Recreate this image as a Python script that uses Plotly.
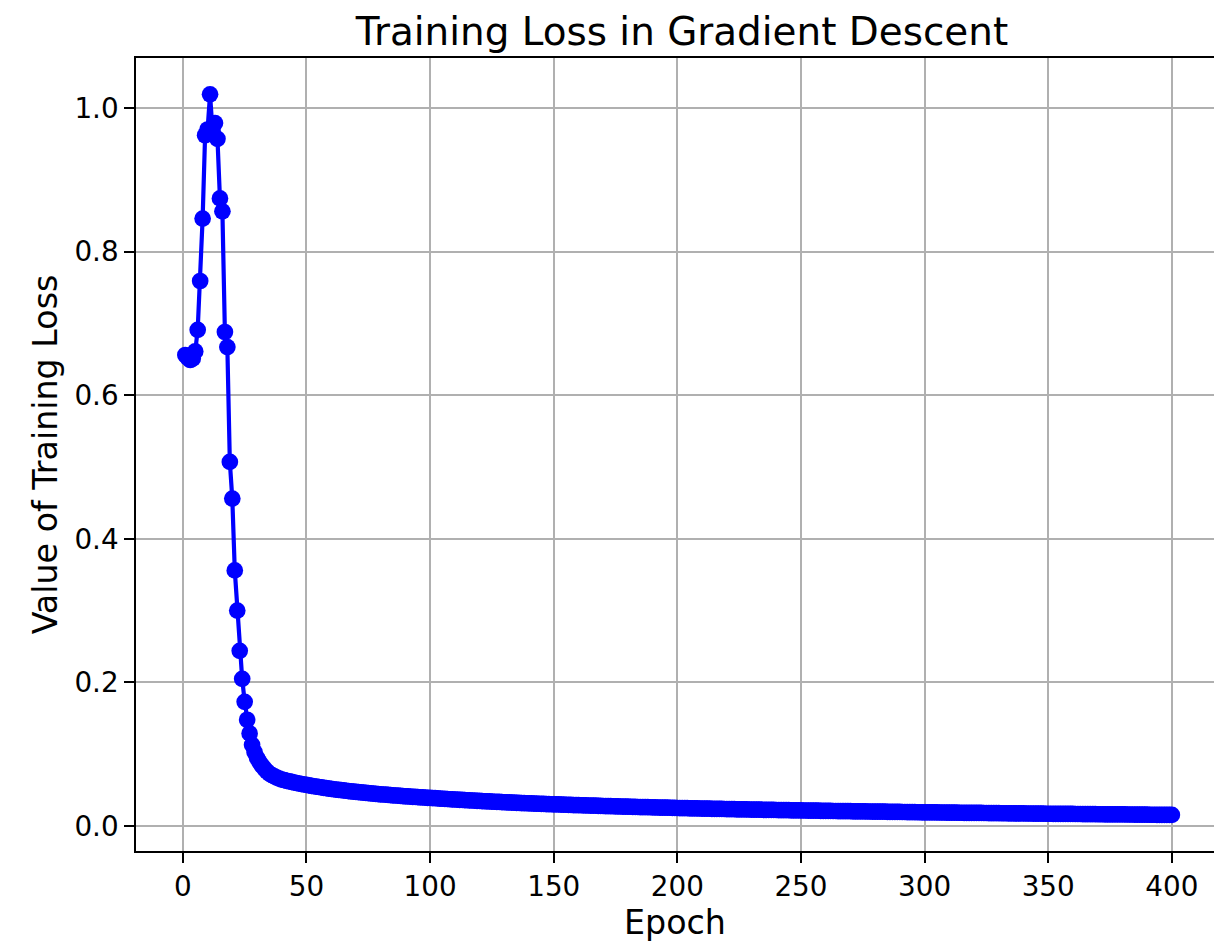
import plotly.graph_objects as go

epochs = list(range(1, 401))

loss = [
    0.656, 0.652, 0.649, 0.651, 0.661, 0.691, 0.759, 0.846, 0.962, 0.970,
    1.019, 0.968, 0.979, 0.957, 0.874, 0.856, 0.688, 0.667, 0.507, 0.456,
    0.356, 0.300, 0.244, 0.205, 0.173, 0.148, 0.129, 0.113, 0.103, 0.095,
    0.089, 0.084, 0.080, 0.076, 0.073, 0.071, 0.069, 0.0675, 0.066, 0.0647,
    0.0638, 0.0630, 0.0622, 0.0614, 0.0606, 0.0599, 0.0592, 0.0585, 0.0578, 0.0572,
    0.0566, 0.0560, 0.0554, 0.0549, 0.0543, 0.0538, 0.0532, 0.0527, 0.0522, 0.0517,
    0.0512, 0.0508, 0.0503, 0.0499, 0.0495, 0.0491, 0.0487, 0.0483, 0.0479, 0.0475,
    0.0472, 0.0468, 0.0465, 0.0461, 0.0458, 0.0455, 0.0452, 0.0448, 0.0445, 0.0442,
    0.0439, 0.0436, 0.0433, 0.0430, 0.0428, 0.0425, 0.0422, 0.0419, 0.0417, 0.0414,
    0.0412, 0.0409, 0.0407, 0.0405, 0.0402, 0.0400, 0.0398, 0.0396, 0.0393, 0.0391,
    0.0389, 0.0387, 0.0384, 0.0382, 0.0380, 0.0378, 0.0376, 0.0373, 0.0371, 0.0369,
    0.0367, 0.0365, 0.0363, 0.0361, 0.0359, 0.0357, 0.0355, 0.0353, 0.0351, 0.0349,
    0.0347, 0.0345, 0.0343, 0.0342, 0.0340, 0.0338, 0.0336, 0.0335, 0.0333, 0.0331,
    0.0329, 0.0328, 0.0326, 0.0325, 0.0323, 0.0322, 0.0320, 0.0319, 0.0317, 0.0316,
    0.0315, 0.0313, 0.0312, 0.0310, 0.0309, 0.0308, 0.0306, 0.0305, 0.0303, 0.0302,
    0.0301, 0.0300, 0.0298, 0.0297, 0.0296, 0.0295, 0.0294, 0.0292, 0.0291, 0.0290,
    0.0289, 0.0288, 0.0287, 0.0286, 0.0285, 0.0284, 0.0283, 0.0281, 0.0280, 0.0279,
    0.0278, 0.0277, 0.0276, 0.0275, 0.0274, 0.0273, 0.0272, 0.0271, 0.0270, 0.0269,
    0.0268, 0.0267, 0.0266, 0.0265, 0.0264, 0.0264, 0.0263, 0.0262, 0.0261, 0.0260,
    0.0259, 0.0258, 0.0257, 0.0256, 0.0256, 0.0255, 0.0254, 0.0253, 0.0252, 0.0251,
    0.0250, 0.0249, 0.0249, 0.0248, 0.0247, 0.0246, 0.0245, 0.0245, 0.0244, 0.0243,
    0.0242, 0.0242, 0.0241, 0.0240, 0.0240, 0.0239, 0.0238, 0.0238, 0.0237, 0.0236,
    0.0235, 0.0235, 0.0234, 0.0233, 0.0233, 0.0232, 0.0231, 0.0231, 0.0230, 0.0229,
    0.0228, 0.0228, 0.0227, 0.0227, 0.0226, 0.0225, 0.0225, 0.0224, 0.0224, 0.0223,
    0.0222, 0.0222, 0.0221, 0.0221, 0.0220, 0.0219, 0.0219, 0.0218, 0.0218, 0.0217,
    0.0216, 0.0216, 0.0215, 0.0215, 0.0214, 0.0213, 0.0213, 0.0212, 0.0212, 0.0211,
    0.0210, 0.0210, 0.0209, 0.0209, 0.0208, 0.0208, 0.0207, 0.0207, 0.0206, 0.0206,
    0.0205, 0.0205, 0.0204, 0.0204, 0.0203, 0.0203, 0.0202, 0.0202, 0.0201, 0.0201,
    0.0200, 0.0200, 0.0199, 0.0199, 0.0198, 0.0198, 0.0197, 0.0197, 0.0196, 0.0196,
    0.0195, 0.0195, 0.0194, 0.0194, 0.0193, 0.0193, 0.0192, 0.0192, 0.0191, 0.0191,
    0.0190, 0.0190, 0.0190, 0.0189, 0.0189, 0.0188, 0.0188, 0.0188, 0.0187, 0.0187,
    0.0186, 0.0186, 0.0186, 0.0185, 0.0185, 0.0184, 0.0184, 0.0184, 0.0183, 0.0183,
    0.0182, 0.0182, 0.0182, 0.0181, 0.0181, 0.0180, 0.0180, 0.0180, 0.0179, 0.0179,
    0.0178, 0.0178, 0.0178, 0.0177, 0.0177, 0.0176, 0.0176, 0.0176, 0.0175, 0.0175,
    0.0174, 0.0174, 0.0174, 0.0173, 0.0173, 0.0172, 0.0172, 0.0172, 0.0171, 0.0171,
    0.0171, 0.0170, 0.0170, 0.0170, 0.0169, 0.0169, 0.0169, 0.0168, 0.0168, 0.0168,
    0.0167, 0.0167, 0.0167, 0.0166, 0.0166, 0.0166, 0.0165, 0.0165, 0.0165, 0.0164,
    0.0164, 0.0164, 0.0163, 0.0163, 0.0163, 0.0162, 0.0162, 0.0162, 0.0161, 0.0161,
    0.0161, 0.0160, 0.0160, 0.0160, 0.0159, 0.0159, 0.0159, 0.0158, 0.0158, 0.0158,
    0.0157, 0.0157, 0.0157, 0.0156, 0.0156, 0.0156, 0.0156, 0.0155, 0.0155, 0.0155,
]

x_ticks = [0, 50, 100, 150, 200, 250, 300, 350, 400]
y_ticks = [0.0, 0.2, 0.4, 0.6, 0.8, 1.0]
y_tick_labels = ["0.0", "0.2", "0.4", "0.6", "0.8", "1.0"]

FONT = "DejaVu Sans"

fig = go.Figure()
fig.add_trace(go.Scatter(
    x=epochs, y=loss, mode="lines+markers",
    line=dict(color="#0000ff", width=4.2),
    marker=dict(color="#0000ff", size=16.7, line=dict(width=0)),
    showlegend=False,
))

fig.update_layout(
    width=1214, height=942,
    margin=dict(l=136, r=0, t=58, b=91, autoexpand=False),
    paper_bgcolor="white", plot_bgcolor="white",
    font=dict(family=FONT, color="black", size=27.8),
    title=dict(text="Training Loss in Gradient Descent",
               font=dict(family=FONT, size=38.9, color="black"),
               x=682 / 1214, xanchor="center",
               y=1 - 45 / 942, yanchor="bottom", pad=dict(b=0)),
)

fig.update_xaxes(
    range=[-18.95, 417.05], tickvals=x_ticks, ticktext=[str(v) for v in x_ticks],
    showgrid=True, gridcolor="#b0b0b0", gridwidth=2.2,
    showline=True, linecolor="black", linewidth=2.2, mirror=True,
    ticks="outside", ticklen=9.7, tickwidth=2.2, tickcolor="black",
    tickfont=dict(family=FONT, size=27.8, color="black"),
    title=dict(text="Epoch", font=dict(family=FONT, size=33.3, color="black"), standoff=6),
    zeroline=False,
)
fig.update_yaxes(
    range=[-0.0348, 1.0696], tickvals=y_ticks, ticktext=y_tick_labels,
    showgrid=True, gridcolor="#b0b0b0", gridwidth=2.2,
    showline=True, linecolor="black", linewidth=2.2, mirror=False,
    ticks="outside", ticklen=9.7, tickwidth=2.2, tickcolor="black",
    tickfont=dict(family=FONT, size=27.8, color="black"),
    title=dict(text="Value of Training Loss", font=dict(family=FONT, size=33.3, color="black"), standoff=7),
    zeroline=False,
)

fig.write_html("out.html")
